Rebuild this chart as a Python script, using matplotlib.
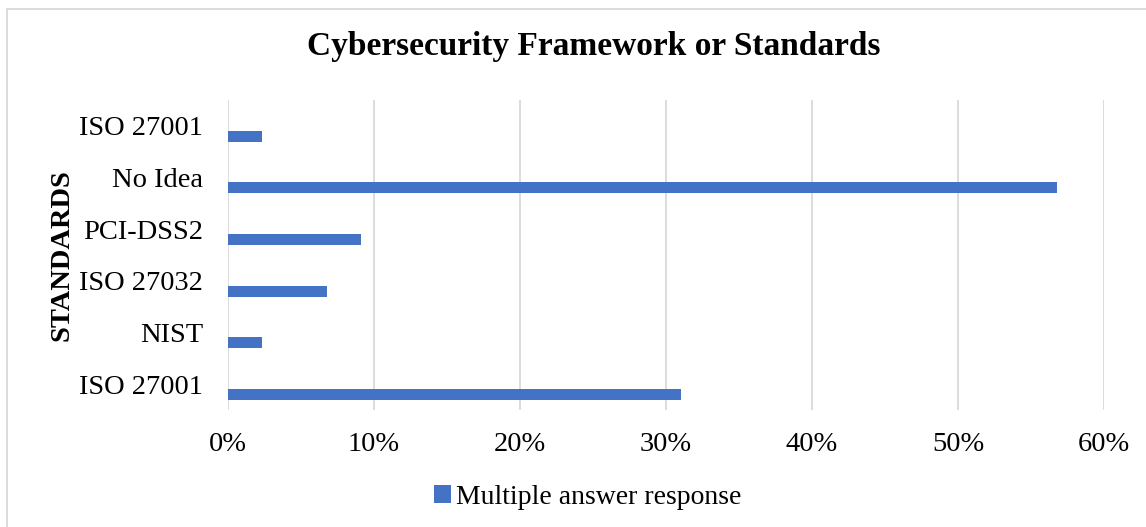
import matplotlib
matplotlib.use("Agg")
import matplotlib.pyplot as plt
from matplotlib.patches import Rectangle
from matplotlib.ticker import PercentFormatter

categories = ["ISO 27001", "No Idea", "PCI-DSS2", "ISO 27032", "NIST", "ISO 27001"]
values = [2.3, 56.8, 9.1, 6.8, 2.3, 31.0]
x_ticks = [0, 10, 20, 30, 40, 50, 60]
series_name = "Multiple answer response"

BLUE = "#4472C4"
GRID = "#D9D9D9"
SERIF = ["Liberation Serif", "DejaVu Serif"]

W, H, DPI = 1146, 527, 100
fig = plt.figure(figsize=(W / DPI, H / DPI), dpi=DPI)
fig.patch.set_facecolor("white")

# plot area in pixel coordinates
left, right, top, bottom = 228, 1104, 100, 410
ax = fig.add_axes([left / W, 1 - bottom / H, (right - left) / W, (bottom - top) / H])

pos = list(range(len(categories)))
bar_pos = [p + 0.2 for p in pos]
ax.barh(bar_pos, values, height=0.21, color=BLUE, label=series_name, zorder=3)

ax.set_ylim(len(categories) - 0.5, -0.5)
ax.set_xlim(0, 60)
ax.set_yticks(pos)
ax.set_yticklabels(categories, fontfamily=SERIF, fontsize=20.5)
ax.set_xticks(x_ticks)
ax.xaxis.set_major_formatter(PercentFormatter(decimals=0))
for lbl in ax.get_xticklabels():
    lbl.set_fontfamily(SERIF)
    lbl.set_fontsize(20.5)
ax.tick_params(length=0)
ax.tick_params(axis="x", pad=15.5)
ax.tick_params(axis="y", pad=18)
ax.grid(axis="x", color=GRID, linewidth=1.3, zorder=0)
for s in ax.spines.values():
    s.set_visible(False)

ax.set_ylabel("STANDARDS", fontfamily=SERIF, fontsize=20.5, fontweight="bold", labelpad=3)

fig.text(594 / W, 1 - 47 / H, "Cybersecurity Framework or Standards",
         ha="center", va="center", fontfamily=SERIF, fontsize=24, fontweight="bold")

leg = fig.legend(loc="center", bbox_to_anchor=(588 / W, 1 - 497 / H), frameon=False,
                 prop={"family": SERIF, "size": 20}, handlelength=0.6, handleheight=0.6,
                 handletextpad=0.2)

# outer chart border
fig.patches.append(Rectangle((6.5 / W, -0.02), (W + 10) / W, 1 - 9 / H + 0.02,
                             transform=fig.transFigure, fill=False,
                             edgecolor=GRID, linewidth=1.3))

fig.savefig("out.png", dpi=DPI, facecolor="white")
